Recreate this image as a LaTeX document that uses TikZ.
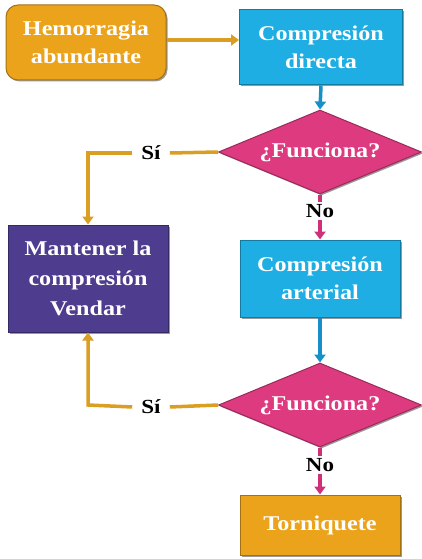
\documentclass[tikz,border=0pt]{standalone}
\usepackage{fontspec}
\setmainfont[FakeStretch=1.15]{Liberation Serif}
\usetikzlibrary{shapes.geometric,arrows.meta,shadows}
\definecolor{orangeC}{HTML}{EBA31B}
\definecolor{orangeL}{HTML}{D99E22}
\definecolor{blueC}{HTML}{1EAEE3}
\definecolor{blueL}{HTML}{1690C8}
\definecolor{purpleC}{HTML}{4E3C8E}
\definecolor{magC}{HTML}{DE3A7F}
\definecolor{magL}{HTML}{D0307A}
\tikzset{
  box/.style={rectangle, fill=#1, draw=#1!70!black, line width=1pt, text=white,
    font=\bfseries\fontsize{21}{28}\selectfont, align=center, inner sep=0pt,
    drop shadow={shadow xshift=1.5pt, shadow yshift=-1.5pt, fill=black, opacity=0.4}},
  dec/.style={diamond, aspect=2.42, fill=magC, draw=magC!70!black, line width=1pt, text=white,
    font=\bfseries\fontsize{21}{24}\selectfont, inner sep=0pt,
    minimum width=203pt, minimum height=84pt,
    drop shadow={shadow xshift=1.5pt, shadow yshift=-1.5pt, fill=black, opacity=0.4}},
  lbl/.style={font=\bfseries\fontsize{20}{22}\selectfont, text=black, inner xsep=9pt, inner ysep=2pt},
  conn/.style={line width=3.5pt, draw=#1},
  arr/.style={line width=3.5pt, draw=#1, -{Triangle[length=8pt,width=11pt]}}
}
\begin{document}
\begin{tikzpicture}[x=1pt,y=-1pt]
\useasboundingbox (0,0) rectangle (421,559);
\node[box=orangeC, rounded corners=12pt, minimum width=160pt, minimum height=75pt] (hem) at (86,42.5) {Hemorragia\\abundante};
\node[box=blueC, minimum width=163pt, minimum height=75pt] (cd) at (321,47.5) {Compresión\\directa};
\node[dec] (d1) at (320,152) {¿Funciona?};
\node[box=purpleC, minimum width=160pt, minimum height=107pt, font=\bfseries\fontsize{21}{30}\selectfont] (ma) at (88,278.5) {Mantener la\\compresión\\Vendar};
\node[box=blueC, minimum width=160pt, minimum height=77pt] (ca) at (320,278.5) {Compresión\\arterial};
\node[dec] (d2) at (320,405) {¿Funciona?};
\node[box=orangeC, minimum width=160pt, minimum height=60pt] (tq) at (320,525) {Torniquete};
\node[lbl] (si1) at (151,153) {Sí};
\node[lbl] (si2) at (151,407) {Sí};
\node[lbl] (no1) at (320,211) {No};
\node[lbl] (no2) at (320,465) {No};
\coordinate (c1) at (88,153);
\coordinate (c2) at (88,405);
% connectors
\draw[arr=orangeL] (hem.east |- 0,40) -- (cd.west |- 0,40);
\draw[arr=blueL] (cd.south) -- (d1.north);
\draw[conn=orangeL] (d1.west) -- (si1.east);
\draw[arr=orangeL] (si1.west) -- (c1) -- (ma.north);
\draw[conn=magL] (d1.south) -- (no1.north);
\draw[arr=magL] (no1.south) -- (ca.north);
\draw[arr=blueL] (ca.south) -- (d2.north);
\draw[conn=orangeL] (d2.west) -- (si2.east);
\draw[arr=orangeL] (si2.west) -- (c2) -- (ma.south);
\draw[conn=magL] (d2.south) -- (no2.north);
\draw[arr=magL] (no2.south) -- (tq.north);
\end{tikzpicture}
\end{document}
